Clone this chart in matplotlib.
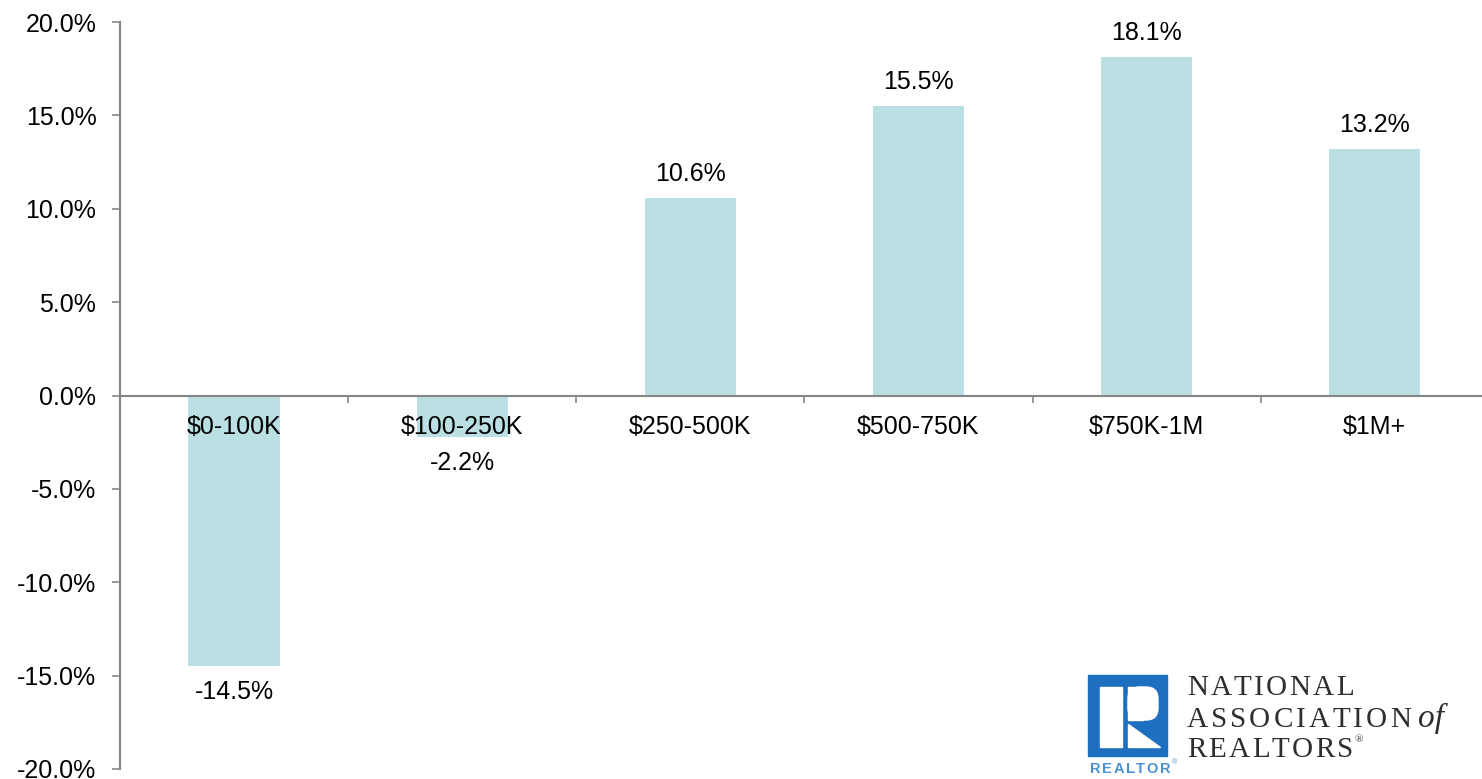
import matplotlib
matplotlib.use("Agg")
import matplotlib.pyplot as plt
from matplotlib.patches import Rectangle, Polygon, FancyBboxPatch
from matplotlib.ticker import FuncFormatter, FixedLocator

categories = ["$0-100K", "$100-250K", "$250-500K", "$500-750K", "$750K-1M", "$1M+"]
values = [-14.5, -2.2, 10.6, 15.5, 18.1, 13.2]
yticks = [-20, -15, -10, -5, 0, 5, 10, 15, 20]

BAR = "#bbe0e3"
GRAY = "#868686"
plt.rcParams["font.family"] = ["Liberation Sans", "DejaVu Sans"]

W, H = 1482, 779
fig = plt.figure(figsize=(W / 100, H / 100), dpi=100)
ax = fig.add_axes([120 / W, 10 / H, 1 - 120 / W, (769 - 22) / H])

x = list(range(len(categories)))
ax.bar(x, values, width=0.4, color=BAR, zorder=2)
ax.set_xlim(-0.5, 5.47)
ax.set_ylim(-20, 20)

ax.yaxis.set_major_locator(FixedLocator(yticks))
ax.yaxis.set_major_formatter(FuncFormatter(lambda v, p: f"{v:.1f}%"))
ax.tick_params(axis="y", direction="out", length=6, width=1.2, color=GRAY,
               labelsize=18, pad=11)

# x ticks sit at category boundaries on the zero line
ax.set_xticks([i + 0.5 for i in x[:-1]])
ax.set_xticklabels([])
ax.tick_params(axis="x", direction="out", length=5, width=1.2, color=GRAY)
ax.spines["bottom"].set_position(("data", 0))
for s in ("top", "right"):
    ax.spines[s].set_visible(False)
for s in ("left", "bottom"):
    ax.spines[s].set_color(GRAY)
    ax.spines[s].set_linewidth(1.5)
    ax.spines[s].set_zorder(3)

for i, c in enumerate(categories):
    ax.annotate(c, (i, 0), xytext=(0, -31), textcoords="offset pixels",
                ha="center", va="center", fontsize=18, zorder=4)

for i, v in enumerate(values):
    off = 24 if v > 0 else -26
    ax.annotate(f"{v:.1f}%", (i, v), xytext=(0, off), textcoords="offset pixels",
                ha="center", va="center", fontsize=18, zorder=4)

# NAR logo drawn in pixel coordinates (y down)
lg = fig.add_axes([0, 0, 1, 1], zorder=5)
lg.set_xlim(0, W)
lg.set_ylim(H, 0)
lg.axis("off")
lg.patch.set_alpha(0)
BLUE = "#1f6fc0"
lg.add_patch(Rectangle((1088, 675), 79, 81, color=BLUE))
lg.add_patch(Rectangle((1100, 687), 22, 60, color="white"))
lg.add_patch(FancyBboxPatch((1128, 687), 30, 33, boxstyle="round,pad=0,rounding_size=12",
                            color="white"))
lg.add_patch(Rectangle((1128, 687), 15, 33, color="white"))
lg.add_patch(Polygon([(1128, 724), (1128, 747), (1160, 747)], closed=True, color="white"))

renderer = fig.canvas.get_renderer()


def tracked(x0, y0, s, track, **kw):
    # place characters one by one so the word gets the wide letter spacing
    for ch in s:
        t = lg.text(x0, y0, ch, ha="left", va="baseline", **kw)
        x0 += t.get_window_extent(renderer).width + track
    return x0


SERIF = dict(color="#2e2e2e", fontsize=21, family="Liberation Serif")
tracked(1187, 695, "NATIONAL", 2.4, **SERIF)
tracked(1187, 727, "ASSOCIATION", 3.0, **SERIF)
end = tracked(1187, 757, "REALTORS", 2.2, **SERIF)
lg.text(end, 742, "®", color="#2e2e2e", fontsize=8, family="Liberation Serif",
        ha="left", va="baseline")
lg.text(1418, 727, "of", color="#2e2e2e", fontsize=24, family="Liberation Serif",
        style="italic", ha="left", va="baseline")
end = tracked(1090, 773, "REALTOR", 1.6, color="#4a90d0", fontsize=10.5,
              fontweight="bold")
lg.text(end, 764, "®", color="#4a90d0", fontsize=5, ha="left", va="baseline")

fig.savefig("out.png", dpi=100)
